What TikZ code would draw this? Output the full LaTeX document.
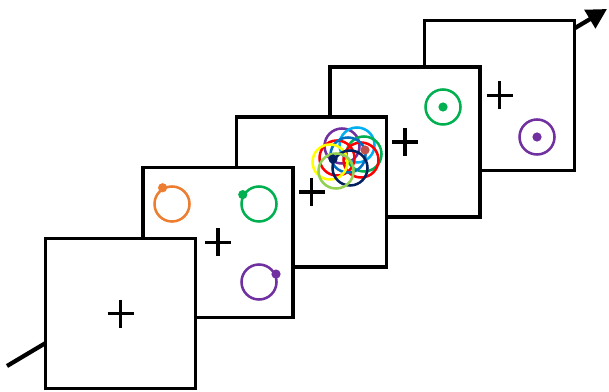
\documentclass[tikz,border=0pt]{standalone}
\usetikzlibrary{arrows.meta}

\definecolor{cOrange}{HTML}{ED7D31}
\definecolor{cGreen}{HTML}{00B050}
\definecolor{cPurple}{HTML}{7030A0}
\definecolor{cYellow}{HTML}{FFFF00}
\definecolor{cRed}{HTML}{FF0000}
\definecolor{cCyan}{HTML}{00B0F0}
\definecolor{cNavy}{HTML}{002060}
\definecolor{cBlue}{HTML}{0070C0}
\definecolor{cLime}{HTML}{92D050}
\definecolor{cBrown}{HTML}{C0504D}

\begin{document}
\begin{tikzpicture}[
  x=0.025cm, y=-0.025cm,
  frame/.style    = {draw, line width=2.6pt, fill=white, minimum size=3.75cm, inner sep=0pt},
  ring/.style     = {draw=#1, circle, line width=1.8pt, minimum size=0.875cm, inner sep=0pt},
  spot/.style     = {fill=#1, circle, minimum size=0.23cm, inner sep=0pt},
  timeline/.style = {line width=3pt, -{Triangle[length=0.5cm,width=0.52cm]}},
  fix/.pic        = {\draw[line width=2.4pt] (-13,0) -- (13,0) (0,-14) -- (0,14);},
]
  \useasboundingbox (0,0) rectangle (609,392);

  % time runs behind the frames
  \coordinate (tail) at (7,366);
  \coordinate (head) at (607,9);
  \draw[timeline] (tail) -- (head);

  % back to front
  \node[frame] (f5) at (499.5,95.5) {};
  \node[frame] (f4) at (405,142) {};
  \node[frame] (f3) at (311.5,192) {};
  \node[frame] (f2) at (218,242.5) {};
  \node[frame] (f1) at (120.5,313.5) {};

  \foreach \f in {f1,f2,f3,f4,f5}
    \pic at (\f) {fix};

  % frame 2: three cued rings
  \node[ring=cOrange] (o2) at (172,204) {};
  \node[ring=cGreen]  (g2) at (259,204) {};
  \node[ring=cPurple] (p2) at (259,282) {};
  \node[spot=cOrange] at (o2.120) {};
  \node[spot=cGreen]  at (g2.150) {};
  \node[spot=cPurple] at (p2.25) {};

  % frame 3: the jumble
  \node[ring=cPurple] (m1) at (342,146) {};
  \node[ring=cCyan]   (m2) at (357,145) {};
  \node[ring=cGreen]  (m3) at (364,154) {};
  \node[ring=cRed]    (m4) at (361,160) {};
  \node[ring=cRed]    (m5) at (337,158) {};
  \node[ring=cBlue]   (m6) at (348,155) {};
  \node[ring=cYellow] (m7) at (330,162) {};
  \node[ring=cNavy]   (m8) at (350,168) {};
  \node[ring=cLime]   (m9) at (336,171) {};
  \node[spot=cNavy]   at (333,159) {};
  \node[spot=cBrown]  at (365,150) {};

  % frames 4 and 5: probes
  \node[ring=cGreen]  (g4) at (443,107) {};
  \node[spot=cGreen]  at (g4) {};
  \node[ring=cPurple] (p5) at (537,137) {};
  \node[spot=cPurple] at (p5) {};
\end{tikzpicture}
\end{document}
